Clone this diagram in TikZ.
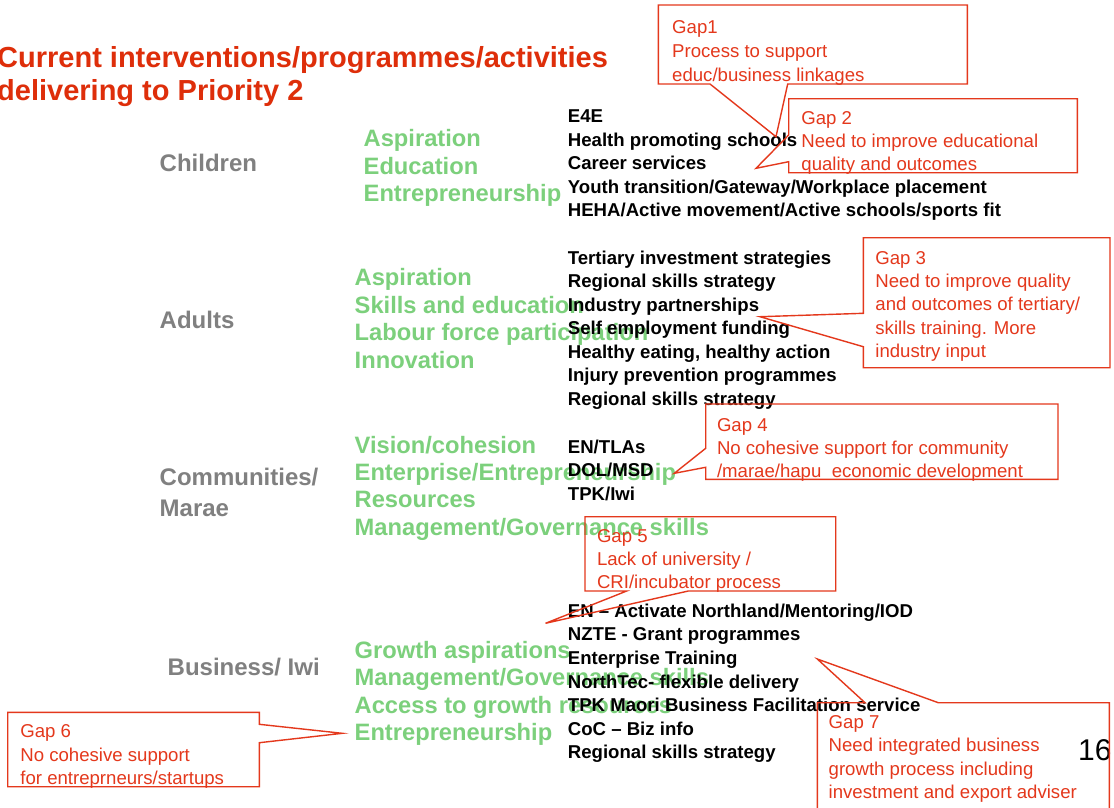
\documentclass[tikz,border=0pt]{standalone}
\usepackage{fontspec}
\setmainfont{Liberation Sans}
\definecolor{titlered}{RGB}{222,46,10}
\definecolor{gapred}{RGB}{228,56,28}
\definecolor{lgreen}{RGB}{124,208,124}
\definecolor{lgray}{RGB}{128,128,128}
\newcommand\textlines[6]{%
  \foreach \t [count=\i] in {#6} {\node[#2, anchor=base west] (#1\i) at ({#3},{#4+#5*(\i-1)}) {\t};}%
}
\tikzset{
  titletxt/.style={font=\bfseries\fontsize{29}{33}\selectfont, text=titlered, inner sep=0pt},
  grouptxt/.style={font=\bfseries\fontsize{24}{28}\selectfont, text=lgray, inner sep=0pt},
  aimtxt/.style={font=\bfseries\fontsize{23.7}{27}\selectfont, text=lgreen, inner sep=0pt},
  progtxt/.style={font=\bfseries\fontsize{18.6}{22}\selectfont, text=black, inner sep=0pt},
  gaptxt/.style={font=\fontsize{18.6}{22}\selectfont, text=gapred, inner sep=0pt},
  callout/.style={draw=gapred, line width=1.4pt, line join=miter},
}
\begin{document}
\begin{tikzpicture}[x=1pt,y=-1pt]
\fill[white] (0,0) rectangle (1114,807);
\clip (0,0) rectangle (1114,807);

% title
\textlines{title}{titletxt}{-3}{67}{33}{Current interventions/programmes/activities, delivering to Priority 2}

% group labels
\node[grouptxt, anchor=base west] (children) at (159.5,171) {Children};
\node[grouptxt, anchor=base west] (adults) at (159.5,328.3) {Adults};
\textlines{comm}{grouptxt}{159.5}{485}{31.7}{Communities/, Marae}
\node[grouptxt, anchor=base west] (business) at (167.5,675) {Business/ Iwi};

% green aims
\textlines{chA}{aimtxt}{363.5}{146.7}{27.5}{Aspiration, Education, Entrepreneurship}
\textlines{adA}{aimtxt}{354.5}{285.7}{27.5}{Aspiration, Skills and education, Labour force participation, Innovation}
\textlines{coA}{aimtxt}{354.5}{453.3}{27.3}{Vision/cohesion, Enterprise/Entrepreneurship, Resources, Management/Governance skills}
\textlines{buA}{aimtxt}{354.5}{658.3}{27.35}{Growth aspirations, Management/Governance skills, Access to growth resources, Entrepreneurship}

% black programmes
\textlines{chP}{progtxt}{567.7}{122.7}{23.5}{E4E, Health promoting schools, Career services, Youth transition/Gateway/Workplace placement, HEHA/Active movement/Active schools/sports fit}
\textlines{adP}{progtxt}{567.7}{264.3}{23.45}{Tertiary investment strategies, Regional skills strategy, Industry partnerships, Self employment funding, {Healthy eating, healthy action}, Injury prevention programmes, Regional skills strategy}
\textlines{coP}{progtxt}{567.7}{453.3}{23.35}{EN/TLAs, DOL/MSD, TPK/Iwi}
\textlines{buP}{progtxt}{567.7}{617.3}{23.6}{EN – Activate Northland/Mentoring/IOD, NZTE - Grant programmes, Enterprise Training, NorthTec- flexible delivery, TPK Maori Business Facilitation service, CoC – Biz info, Regional skills strategy}

% page number
\node[font=\fontsize{30}{34}\selectfont, inner sep=0pt, anchor=base west] (pagenum) at (1078,760) {16};

% gap texts
\textlines{gA}{gaptxt}{672}{33.3}{24.2}{Gap1, Process to support, educ/business linkages}
\textlines{gB}{gaptxt}{801.2}{124}{23.35}{Gap 2, Need to improve educational, quality and outcomes}
\textlines{gC}{gaptxt}{875.2}{264.3}{23.25}{Gap 3, Need to improve quality, and outcomes of tertiary/, skills training. More, industry input}
\textlines{gD}{gaptxt}{716.8}{431}{23.35}{Gap 4, No cohesive support for community, /marae/hapu\ \ economic development}
\textlines{gE}{gaptxt}{596.8}{542.7}{22.8}{Gap 5, Lack of university /, CRI/incubator process}
\textlines{gF}{gaptxt}{20.2}{737.7}{23.3}{Gap 6, No cohesive support, for entreprneurs/startups}
\textlines{gG}{gaptxt}{828.5}{728.3}{23.35}{Gap 7, Need integrated business, growth process including, investment and export adviser}

% callout 1 (pointer down to Health promoting schools)
\coordinate (t1) at (776,136.7);
\draw[callout] (658.3,5) -- (967.3,5) -- (967.3,84) -- (787.7,84) -- (t1) -- (710,84) -- (658.3,84) -- cycle;
% callout 2
\coordinate (t2) at (756,168.3);
\draw[callout] (788.7,98.7) -- (1077.3,98.7) -- (1077.3,172.7) -- (788.7,172.7) -- (788.7,161.7) -- (t2) -- (788.7,135) -- cycle;
% callout 3
\coordinate (t3) at (760,316.7);
\draw[callout] (863.3,237.7) -- (1110,237.7) -- (1110,367.7) -- (863.3,367.7) -- (863.3,346.7) -- (t3) -- (863.3,313.3) -- cycle;
% callout 4
\coordinate (t4) at (674.3,473.3);
\draw[callout] (705.7,404) -- (1058,404) -- (1058,479.3) -- (705.7,479.3) -- (705.7,467.3) -- (t4) -- (705.7,448.3) -- cycle;
% callout 5
\coordinate (t5) at (545.5,623.3);
\draw[callout] (585,516.7) -- (835.7,516.7) -- (835.7,591) -- (688.3,591) -- (t5) -- (626.7,591) -- (585,591) -- cycle;
% callout 6
\coordinate (t6) at (342.3,733.3);
\draw[callout] (7.7,712.3) -- (259.3,712.3) -- (259.3,724.3) -- (t6) -- (259.3,742.7) -- (259.3,786.7) -- (7.7,786.7) -- cycle;
% callout 7
\coordinate (t7) at (817.3,659);
\draw[callout] (817.3,702.7) -- (865,702.7) -- (t7) -- (938.3,702.7) -- (1109.3,702.7) -- (1109.3,830) -- (817.3,830) -- cycle;
\end{tikzpicture}
\end{document}
